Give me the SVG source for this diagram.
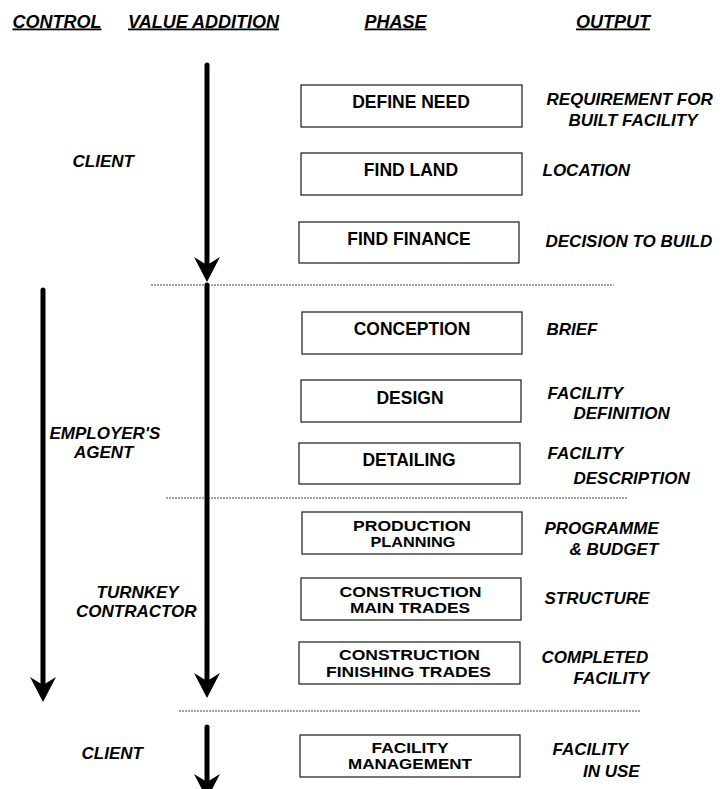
<svg xmlns="http://www.w3.org/2000/svg" width="726" height="789" viewBox="0 0 726 789">
  <style>
    .hdr { font-family: "Liberation Sans", Arial, sans-serif; font-size: 18px; font-weight: bold; font-style: italic; text-decoration: underline; fill: #000; }
    .lbl { font-family: "Liberation Sans", Arial, sans-serif; font-size: 17px; font-weight: bold; font-style: italic; fill: #000; }
    .box { fill: #fff; stroke: #1a1a1a; stroke-width: 1.2; }
    .bt { font-family: "Liberation Sans", Arial, sans-serif; font-size: 17.5px; font-weight: bold; fill: #000; text-anchor: middle; }
    .bt2 { font-family: "Liberation Sans", Arial, sans-serif; font-size: 15px; font-weight: bold; fill: #000; text-anchor: middle; }
    .shaft { stroke: #000; stroke-width: 5; stroke-linecap: round; fill: none; }
    .head { fill: #000; }
    .sep { stroke: #444; stroke-width: 1; stroke-dasharray: 2 1; }
  </style>

  <!-- column headings -->
  <g id="headings">
    <text class="hdr" x="12.5" y="27.5">CONTROL</text>
    <text class="hdr" x="128" y="27.5">VALUE ADDITION</text>
    <text class="hdr" x="364.5" y="27.5">PHASE</text>
    <text class="hdr" x="576" y="27.5">OUTPUT</text>
  </g>

  <!-- stage separators and flow arrows -->
  <g id="connectors">
    <line class="sep" x1="151" y1="285" x2="614" y2="285"/>
    <line class="sep" x1="166" y1="498" x2="627" y2="498"/>
    <line class="sep" x1="179" y1="711" x2="641" y2="711"/>

    <line class="shaft" x1="207" y1="65" x2="207" y2="268"/>
    <path class="head" d="M207,282 L194,257 L207,265 L220,257 Z"/>

    <line class="shaft" x1="207" y1="285" x2="207" y2="684"/>
    <path class="head" d="M207,698 L194,673 L207,681 L220,673 Z"/>

    <line class="shaft" x1="43" y1="290" x2="43" y2="688"/>
    <path class="head" d="M43,702 L30,677 L43,685 L56,677 Z"/>

    <line class="shaft" x1="207" y1="727" x2="207" y2="785"/>
    <path class="head" d="M207,799 L194,774 L207,782 L220,774 Z"/>
  </g>

  <!-- controlling party labels -->
  <g id="control-labels">
    <text class="lbl" x="72.5" y="166.5">CLIENT</text>
    <text class="lbl" x="49.5" y="439">EMPLOYER'S</text>
    <text class="lbl" x="74" y="457.5">AGENT</text>
    <text class="lbl" x="96.5" y="597.5">TURNKEY</text>
    <text class="lbl" x="76" y="616.5">CONTRACTOR</text>
    <text class="lbl" x="81.5" y="759">CLIENT</text>
  </g>

  <!-- phases -->
  <g id="define-need">
    <rect class="box" x="301" y="85" width="221" height="42"/>
    <text class="bt" x="411" y="107.5">DEFINE NEED</text>
  </g>
  <g id="find-land">
    <rect class="box" x="301" y="153" width="221" height="42"/>
    <text class="bt" x="411" y="176">FIND LAND</text>
  </g>
  <g id="find-finance">
    <rect class="box" x="299" y="222" width="220" height="41"/>
    <text class="bt" x="409" y="244.5">FIND FINANCE</text>
  </g>
  <g id="conception">
    <rect class="box" x="302" y="312" width="220" height="42"/>
    <text class="bt" x="412" y="334.5">CONCEPTION</text>
  </g>
  <g id="design">
    <rect class="box" x="301" y="380" width="220" height="42"/>
    <text class="bt" x="410" y="403.5">DESIGN</text>
  </g>
  <g id="detailing">
    <rect class="box" x="299" y="443" width="221" height="41"/>
    <text class="bt" x="409" y="465.5">DETAILING</text>
  </g>
  <g id="production-planning">
    <rect class="box" x="302" y="512" width="220" height="42"/>
    <text class="bt2" x="412" y="530.5" textLength="118" lengthAdjust="spacingAndGlyphs">PRODUCTION</text>
    <text class="bt2" x="413" y="547.3" textLength="85" lengthAdjust="spacingAndGlyphs">PLANNING</text>
  </g>
  <g id="construction-main">
    <rect class="box" x="301" y="578" width="220" height="42"/>
    <text class="bt2" x="410.5" y="596.6" textLength="142" lengthAdjust="spacingAndGlyphs">CONSTRUCTION</text>
    <text class="bt2" x="410" y="613.4" textLength="120" lengthAdjust="spacingAndGlyphs">MAIN TRADES</text>
  </g>
  <g id="construction-finishing">
    <rect class="box" x="299" y="642" width="221" height="42"/>
    <text class="bt2" x="409.5" y="659.8" textLength="141" lengthAdjust="spacingAndGlyphs">CONSTRUCTION</text>
    <text class="bt2" x="408.5" y="676.6" textLength="165" lengthAdjust="spacingAndGlyphs">FINISHING TRADES</text>
  </g>
  <g id="facility-management">
    <rect class="box" x="300" y="735" width="220" height="42"/>
    <text class="bt2" x="410" y="752.6" textLength="77" lengthAdjust="spacingAndGlyphs">FACILITY</text>
    <text class="bt2" x="410" y="769.4" textLength="124" lengthAdjust="spacingAndGlyphs">MANAGEMENT</text>
  </g>

  <!-- phase outputs -->
  <g id="outputs">
    <text class="lbl" x="546.5" y="105">REQUIREMENT FOR</text>
    <text class="lbl" x="568.5" y="126">BUILT FACILITY</text>
    <text class="lbl" x="542.5" y="176">LOCATION</text>
    <text class="lbl" x="545.5" y="246.5">DECISION TO BUILD</text>
    <text class="lbl" x="546.5" y="335">BRIEF</text>
    <text class="lbl" x="547.5" y="398.5">FACILITY</text>
    <text class="lbl" x="573.5" y="418.5">DEFINITION</text>
    <text class="lbl" x="547.5" y="459">FACILITY</text>
    <text class="lbl" x="573.5" y="484">DESCRIPTION</text>
    <text class="lbl" x="544.5" y="533.5">PROGRAMME</text>
    <text class="lbl" x="569.5" y="554.5">&amp; BUDGET</text>
    <text class="lbl" x="544.5" y="603.5">STRUCTURE</text>
    <text class="lbl" x="541.5" y="662.5">COMPLETED</text>
    <text class="lbl" x="573.5" y="684">FACILITY</text>
    <text class="lbl" x="552.5" y="755">FACILITY</text>
    <text class="lbl" x="583" y="776.5">IN USE</text>
  </g>
</svg>
